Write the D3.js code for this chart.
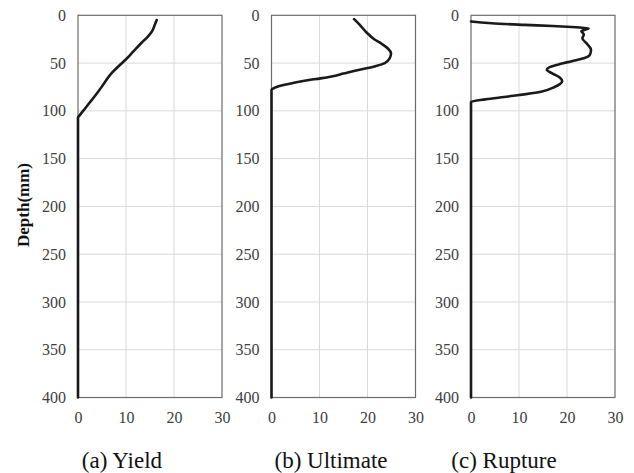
<!DOCTYPE html>
<html>
<head>
<meta charset="utf-8">
<script src="https://cdn.jsdelivr.net/npm/d3@7"></script>
<style>
  html, body { margin: 0; padding: 0; background: #fff; }
  svg { display: block; }
  text { font-family: "Liberation Serif", "Times New Roman", serif; }
</style>
</head>
<body>
<svg id="chart" width="634" height="473"></svg>
<script>
// Depth profiles: [value, depth(mm)] pairs for each loading stage
const yieldProfile = [
  [16.4, 5], [16.0, 10], [15.4, 17], [14.6, 22], [13.2, 29], [11.5, 38],
  [10.0, 46], [8.5, 53], [7.0, 60.5], [5.6, 70], [4.2, 80], [2.8, 89],
  [1.4, 98], [0.3, 105], [0, 107], [0, 400]
];
const ultimateProfile = [
  [17.2, 4], [18.4, 10], [19.8, 18], [21.4, 25], [23.0, 30], [24.3, 35],
  [24.9, 40], [24.6, 45], [23.6, 50], [21.8, 53], [19.8, 55.5], [17.4, 58],
  [15, 61], [12.5, 64], [10.2, 66], [7.5, 68], [5.2, 70], [2.5, 73],
  [0.6, 76], [0, 78], [0, 400]
];
const ruptureProfile = [
  [0, 6.5], [4.3, 8.4], [11.2, 10], [17, 11.2], [21, 12.2], [24.5, 13.5],
  [23, 16.5], [23.5, 20], [23.2, 24], [24.2, 30], [25, 36], [24.8, 41],
  [23.5, 45], [21, 48], [18.5, 51], [16.5, 54], [15.8, 57], [17, 61],
  [18.5, 65], [19, 69], [18.5, 72], [17.4, 75], [14.6, 80], [7.7, 85],
  [3, 88], [0, 90.5], [0, 400]
];

const panelCaptions = ["(a) Yield", "(b) Ultimate", "(c) Rupture"];
const xTicks = [0, 10, 20, 30];
const yTicks = [0, 50, 100, 150, 200, 250, 300, 350, 400];
const yTitle = "Depth(mm)";

const panels = [
  { data: yieldProfile, left: 78 },
  { data: ultimateProfile, left: 271.5 },
  { data: ruptureProfile, left: 471 }
];

const svg = d3.select("#chart");
const plotTop = 15.3, plotBottom = 397.5, panelW = 144;
const serif = "Liberation Serif";

const y = d3.scaleLinear().domain([0, 400]).range([plotTop, plotBottom]);

panels.forEach((p, i) => {
  const x = d3.scaleLinear().domain([0, 30]).range([p.left, p.left + panelW]);
  const g = svg.append("g");

  // grid
  g.selectAll(".vgrid").data(xTicks.slice(1, -1)).join("line")
    .attr("x1", d => x(d)).attr("x2", d => x(d))
    .attr("y1", plotTop).attr("y2", plotBottom)
    .attr("stroke", "#d9d9d9").attr("stroke-width", 1);
  g.selectAll(".hgrid").data(yTicks.slice(1, -1)).join("line")
    .attr("x1", x(0)).attr("x2", x(30))
    .attr("y1", d => y(d)).attr("y2", d => y(d))
    .attr("stroke", "#d9d9d9").attr("stroke-width", 1);

  // frame
  g.append("rect")
    .attr("x", x(0)).attr("y", plotTop)
    .attr("width", x(30) - x(0)).attr("height", plotBottom - plotTop)
    .attr("fill", "none").attr("stroke", "#6b6b6b").attr("stroke-width", 1.2);

  // axes (labels only)
  const yAxis = d3.axisLeft(y).tickValues(yTicks).tickSize(0).tickPadding(12);
  const ga = g.append("g").attr("transform", `translate(${x(0)},0)`).call(yAxis)
    .attr("font-family", null).attr("font-size", null);
  ga.select(".domain").remove();
  ga.selectAll("text").style("font-family", serif).style("font-size", "16px").attr("fill", "#404040");

  const xAxis = d3.axisBottom(x).tickValues(xTicks).tickSize(0).tickPadding(14);
  const gx = g.append("g").attr("transform", `translate(0,${plotBottom})`).call(xAxis)
    .attr("font-family", null).attr("font-size", null);
  gx.select(".domain").remove();
  gx.selectAll("text").style("font-family", serif).style("font-size", "16px").attr("fill", "#404040");

  // profile curve (depth increases monotonically along each profile)
  const line = d3.line()
    .x(d => x(d[0])).y(d => y(d[1]))
    .curve(d3.curveMonotoneY);
  g.append("path").datum(p.data)
    .attr("d", line)
    .attr("fill", "none").attr("stroke", "#1a1a1a")
    .attr("stroke-width", 2.6).attr("stroke-linejoin", "round").attr("stroke-linecap", "round");

  // caption
  svg.append("text")
    .attr("x", [122, 331, 504][i]).attr("y", 468)
    .attr("text-anchor", "middle")
    .style("font-family", serif).style("font-size", "23px").attr("fill", "#111")
    .text(panelCaptions[i]);
});

svg.append("text")
  .attr("transform", `translate(29,205) rotate(-90)`)
  .attr("text-anchor", "middle")
  .style("font-family", serif).style("font-size", "17px").style("font-weight", "bold").attr("fill", "#111")
  .text(yTitle);
</script>
</body>
</html>
